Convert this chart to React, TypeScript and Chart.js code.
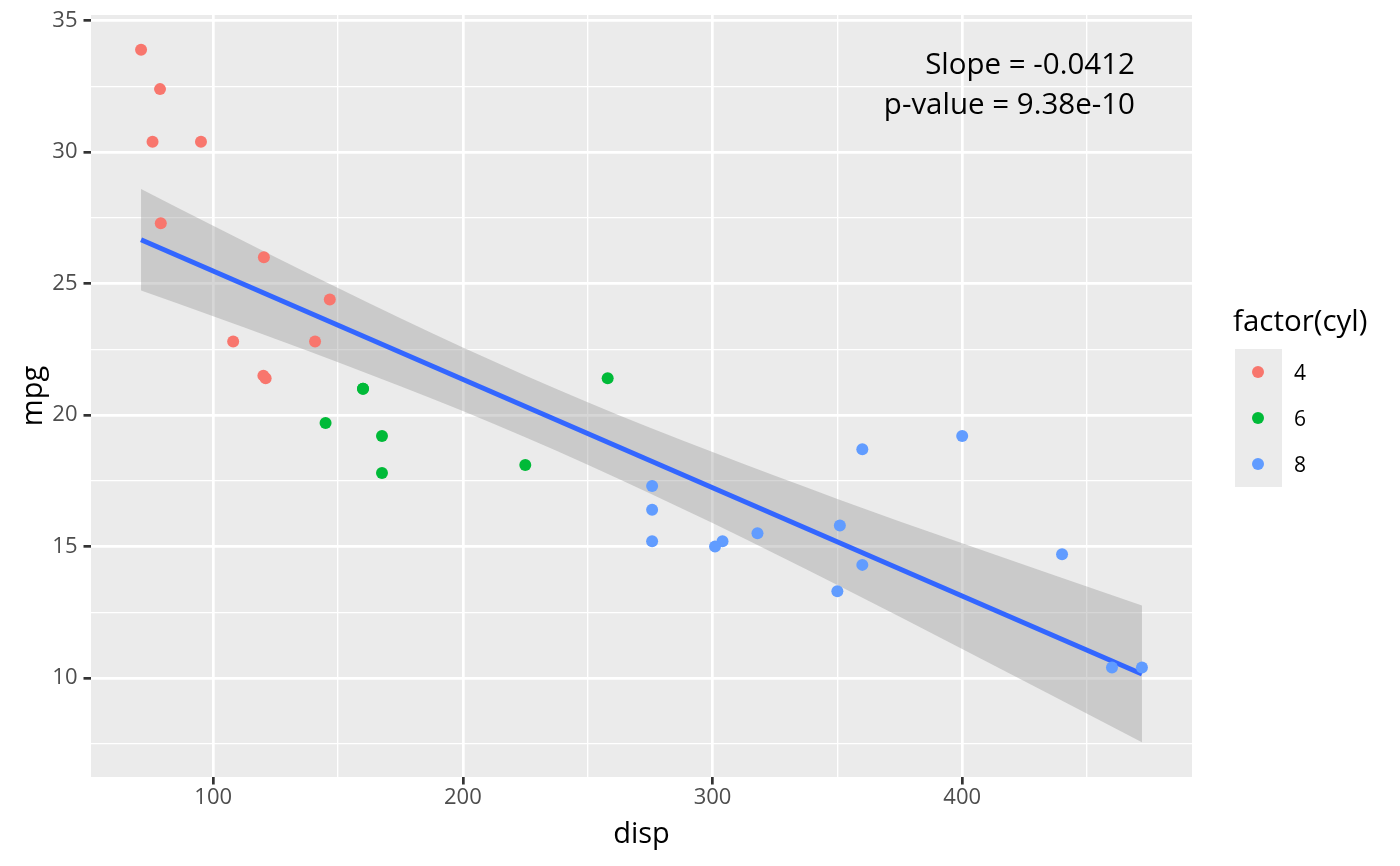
import { useEffect, useRef } from "react";
import Chart from "chart.js/auto";
import type { ChartConfiguration, Plugin } from "chart.js";

// mtcars: disp vs mpg, grouped by cyl
const disp4 = [108, 146.7, 140.8, 78.7, 75.7, 71.1, 120.1, 79, 120.3, 95.1, 121];
const mpg4 = [22.8, 24.4, 22.8, 32.4, 30.4, 33.9, 21.5, 27.3, 26.0, 30.4, 21.4];
const disp6 = [160, 160, 258, 225, 167.6, 167.6, 145];
const mpg6 = [21.0, 21.0, 21.4, 18.1, 19.2, 17.8, 19.7];
const disp8 = [360, 360, 275.8, 275.8, 275.8, 472, 460, 440, 318, 304, 350, 400, 351, 301];
const mpg8 = [18.7, 14.3, 16.4, 17.3, 15.2, 10.4, 10.4, 14.7, 15.5, 15.2, 13.3, 19.2, 15.8, 15.0];

// lm fit + 95% band
const fitX = [71.1, 472];
const fitY = [26.67, 10.15];
const bandX = [71.1, 100, 150, 200, 250, 300, 350, 400, 472];
const bandHi = [28.6, 27.2, 24.83, 22.57, 20.49, 18.59, 16.81, 15.12, 12.75];
const bandLo = [24.74, 23.76, 22.01, 20.15, 18.11, 15.89, 13.53, 11.1, 7.55];

const xTicks = [100, 150, 200, 250, 300, 350, 400, 450];
const yTicks = [7.5, 10, 12.5, 15, 17.5, 20, 22.5, 25, 27.5, 30, 32.5, 35];
const legendLabels = ["4", "6", "8"];
const COLORS = ["#F8766D", "#00BA38", "#619CFF"];
const FONT = "'Open Sans', 'Noto Sans', sans-serif";

const pts = (xs: number[], ys: number[]) => xs.map((x, i) => ({ x, y: ys[i] }));

const panelPlugin: Plugin = {
  id: "panel",
  beforeDraw(chart) {
    const { ctx, chartArea: a } = chart;
    ctx.save();
    ctx.fillStyle = "#EBEBEB";
    ctx.fillRect(a.left, a.top, a.right - a.left, a.bottom - a.top);
    ctx.restore();
  },
  afterDraw(chart) {
    const { ctx, chartArea: a, scales } = chart;
    ctx.save();
    ctx.fillStyle = "#000";
    ctx.font = `29.5px ${FONT}`;
    ctx.textAlign = "right";
    ctx.textBaseline = "alphabetic";
    const x = scales.x.getPixelForValue(469.2);
    ctx.fillText("Slope = -0.0412", x, scales.y.getPixelForValue(32.97));
    ctx.fillText("p-value = 9.38e-10", x, scales.y.getPixelForValue(31.46));
    // axis titles
    ctx.font = `29px ${FONT}`;
    ctx.textAlign = "center";
    ctx.fillText("disp", (a.left + a.right) / 2, 843);
    ctx.translate(42, (a.top + a.bottom) / 2);
    ctx.rotate(-Math.PI / 2);
    ctx.fillText("mpg", 0, 0);
    ctx.restore();
  },
};

const isMajor = (v: number, step: number) => Math.abs(v / step - Math.round(v / step)) < 1e-6;

export default function App() {
  const canvasRef = useRef<HTMLCanvasElement | null>(null);

  useEffect(() => {
    if (!canvasRef.current) return;
    const config: ChartConfiguration<"scatter"> = {
      type: "scatter",
      data: {
        datasets: [
          ...[pts(disp4, mpg4), pts(disp6, mpg6), pts(disp8, mpg8)].map((data, i) => ({
            label: legendLabels[i],
            data,
            backgroundColor: COLORS[i],
            borderWidth: 0,
            pointRadius: 6,
            order: 1,
          })),
          {
            label: "fit",
            data: pts(fitX, fitY),
            showLine: true,
            borderColor: "#3366FF",
            borderWidth: 5,
            pointRadius: 0,
            order: 2,
          },
          {
            label: "hi",
            data: pts(bandX, bandHi),
            showLine: true,
            borderWidth: 0,
            pointRadius: 0,
            fill: "+1",
            backgroundColor: "rgba(153,153,153,0.4)",
            cubicInterpolationMode: "monotone",
            order: 3,
          },
          {
            label: "lo",
            data: pts(bandX, bandLo),
            showLine: true,
            borderWidth: 0,
            pointRadius: 0,
            cubicInterpolationMode: "monotone",
            order: 3,
          },
        ],
      },
      options: {
        animation: false,
        responsive: false,
        layout: { padding: { left: 0, right: 208, top: 15, bottom: 0 } },
        plugins: { legend: { display: false }, tooltip: { enabled: false } },
        scales: {
          x: {
            type: "linear",
            min: 51.05,
            max: 492.05,
            afterFit: (s) => {
              s.height = 89;
              s.paddingLeft = 0;
              s.paddingRight = 0;
            },
            afterBuildTicks: (s) => {
              s.ticks = xTicks.map((value) => ({ value }));
            },
            border: { display: false },
            grid: {
              color: "#FFFFFF",
              lineWidth: (c) => (isMajor(c.tick.value, 100) ? 2.7 : 1.35),
              tickColor: (c) => (isMajor(c.tick.value, 100) ? "#333333" : "rgba(0,0,0,0)"),
              tickLength: 7.5,
              tickWidth: 2.7,
            },
            ticks: {
              color: "#4D4D4D",
              font: { family: FONT, size: 22 },
              padding: 0,
              maxRotation: 0,
              autoSkip: false,
              callback: (v) => (isMajor(Number(v), 100) ? String(v) : ""),
            },
          },
          y: {
            type: "linear",
            min: 6.23,
            max: 35.22,
            afterFit: (s) => {
              s.width = 91;
              s.paddingTop = 0;
              s.paddingBottom = 0;
            },
            afterBuildTicks: (s) => {
              s.ticks = yTicks.map((value) => ({ value }));
            },
            border: { display: false },
            grid: {
              color: "#FFFFFF",
              lineWidth: (c) => (isMajor(c.tick.value, 5) ? 2.7 : 1.35),
              tickColor: (c) => (isMajor(c.tick.value, 5) ? "#333333" : "rgba(0,0,0,0)"),
              tickLength: 7.5,
              tickWidth: 2.7,
            },
            ticks: {
              color: "#4D4D4D",
              font: { family: FONT, size: 22 },
              padding: 6,
              autoSkip: false,
              callback: (v) => (isMajor(Number(v), 5) ? String(v) : ""),
            },
          },
        },
      },
      plugins: [panelPlugin],
    };
    const chart = new Chart(canvasRef.current, config);
    return () => chart.destroy();
  }, []);

  return (
    <div style={{ position: "fixed", left: 0, top: 0, width: 1400, height: 866, background: "#fff", fontFamily: FONT }}>
      <canvas ref={canvasRef} width={1400} height={866} style={{ width: 1400, height: 866 }} />
      <div style={{ position: "absolute", left: 1233, top: 300, fontSize: 29.5, color: "#000", lineHeight: "40px", whiteSpace: "nowrap" }}>
        factor(cyl)
      </div>
      <div style={{ position: "absolute", left: 1235, top: 349, width: 47, height: 138, background: "#EBEBEB" }} />
      {legendLabels.map((lab, i) => (
        <div key={lab}>
          <div
            style={{
              position: "absolute",
              left: 1252,
              top: 366 + i * 46,
              width: 12,
              height: 12,
              borderRadius: "50%",
              background: COLORS[i],
            }}
          />
          <div style={{ position: "absolute", left: 1294, top: 356 + i * 46, fontSize: 21, lineHeight: "32px", color: "#000" }}>
            {lab}
          </div>
        </div>
      ))}
    </div>
  );
}
